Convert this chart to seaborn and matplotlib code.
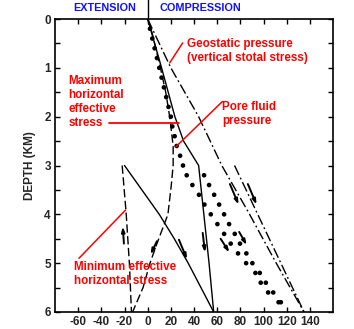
import numpy as np
import pandas as pd
import matplotlib
matplotlib.use("Agg")
import matplotlib.pyplot as plt
import matplotlib.transforms as mtransforms
import seaborn as sns

# ---------------- data ----------------
# Geostatic pressure (vertical total stress), dash-dot
geo_depth = [0, 1, 2, 3, 4, 5, 6]
geo_stress = [0, 20, 44, 64, 88, 111, 135]
# second dash-dot line (starting at 3 km)
geo2_depth = [3, 4, 5, 6]
geo2_stress = [75, 95, 115, 135]

# Maximum horizontal effective stress, solid
shmax_depth = [0, 1, 2, 2.5, 3, 4, 5, 6]
shmax_stress = [0, 12, 23.5, 31, 44, 48.5, 53, 57]
# second solid line (starting at 3 km)
shmax2_depth = [3, 3.5, 4, 4.5, 5, 5.5, 6]
shmax2_stress = [-20, -5, 10, 23, 35, 46, 57]

# Minimum effective horizontal stress, dashed
shmin_depth = [0, 0.3, 1, 1.5, 2, 2.6, 3, 3.4, 4, 4.6, 5, 5.5, 6]
shmin_stress = [0, 4, 11, 15.6, 19, 22, 22, 20.4, 17.5, 8, 2, -4, -13]
# second dashed line (starting at 3 km)
shmin2_depth = [3, 4, 5, 6]
shmin2_stress = [-22, -18.5, -15.8, -14]

# Pore fluid pressure, dotted (two series)
pore_depth = [0.2, 0.4, 0.6, 0.8, 1.0, 1.2, 1.4, 1.6, 1.8, 2.0, 2.2, 2.4, 2.6,
              2.8, 3.0, 3.2, 3.4, 3.6, 3.8, 4.0, 4.2, 4.4, 4.6, 4.8, 5.0, 5.2,
              5.4, 5.6, 5.8]
pore_press = [2, 4, 6, 8, 10, 12, 14, 16, 18, 20, 21.3, 23.3, 25, 28, 30.5,
              33.7, 38.6, 44.3, 49, 54.5, 60.2, 66, 71.7, 78, 85, 93, 97.6,
              104, 113]
pore2_depth = [3.2, 3.4, 3.6, 3.8, 4.0, 4.2, 4.4, 4.6, 4.8, 5.0, 5.2, 5.4,
               5.6, 5.8]
pore2_press = [48.7, 53, 57.4, 61.7, 66, 70.3, 75.2, 79.7, 85.2, 90.4, 96.8,
               102, 108.4, 115]

# small harpoon arrows (tail x, tail depth, head x, head depth)
arrows = [(-20.5, 4.6, -21.5, 4.25),
          (8, 4.55, 2.5, 4.82),
          (27, 4.52, 34, 4.92),
          (47.5, 4.38, 49.5, 4.78),
          (63, 4.5, 70.5, 4.78),
          (79, 4.36, 85.5, 4.63),
          (71, 3.38, 78.5, 3.8),
          (86.5, 3.38, 94, 3.8)]

x_ticks = [-60, -40, -20, 0, 20, 40, 60, 80, 100, 120, 140]
y_ticks = [0, 1, 2, 3, 4, 5, 6]
y_minor = [0.5, 1.5, 2.5, 3.5, 4.5, 5.5]

# ---------------- style ----------------
sns.set_style("ticks")
plt.rcParams["font.family"] = ["Liberation Sans", "DejaVu Sans"]
plt.rcParams["axes.unicode_minus"] = False
plt.rcParams["lines.scale_dashes"] = False

W, H = 354, 329
fig = plt.figure(figsize=(W / 100, H / 100), dpi=100)
fig.patch.set_facecolor("white")
left, right, top, bottom = 55, 333, 19, 312
ax = fig.add_axes([left / W, 1 - bottom / H, (right - left) / W, (bottom - top) / H])
ax.set_facecolor("white")

lw = 1.0
dashdot = (0, (7.5, 2.2, 1.3, 2.2))
dashed = (0, (6.0, 2.5))

def line(xs, ys, ls):
    df = pd.DataFrame({"x": xs, "y": ys})
    sns.lineplot(data=df, x="x", y="y", sort=False, estimator=None, ax=ax,
                 color="black", lw=lw, linestyle=ls)

line(geo_stress, geo_depth, dashdot)
line(geo2_stress, geo2_depth, dashdot)
line(shmax_stress, shmax_depth, "-")
line(shmax2_stress, shmax2_depth, "-")
line(shmin_stress, shmin_depth, dashed)
line(shmin2_stress, shmin2_depth, dashed)

for px, pd_ in [(pore_press, pore_depth), (pore2_press, pore2_depth)]:
    sns.scatterplot(x=px, y=pd_, ax=ax, color="black", s=11, marker="o",
                    edgecolor="none")

for (x0, d0, x1, d1) in arrows:
    ax.annotate("", xy=(x1, d1), xytext=(x0, d0),
                arrowprops=dict(arrowstyle="-|>,head_length=0.3,head_width=0.1",
                                color="black", lw=1.4, shrinkA=0, shrinkB=0))

ax.set_xlim(-80, 160)
ax.set_ylim(6, 0)
ax.set_xticks(x_ticks)
ax.set_xticklabels([str(v) for v in x_ticks])
ax.set_yticks(y_ticks)
ax.set_yticks(y_minor, minor=True)
ax.set_yticklabels([str(v) for v in y_ticks])
ax.tick_params(axis="both", which="both", direction="in", length=3.5, width=1,
               top=True, right=True, labelsize=8.5, pad=3, color="black")
for lab in ax.get_xticklabels() + ax.get_yticklabels():
    lab.set_fontweight("bold")
for sp in ax.spines.values():
    sp.set_visible(True)
    sp.set_linewidth(1.2)
    sp.set_color("black")
ax.set_xlabel("")
ax.set_ylabel("DEPTH (KM)", fontsize=8.5, fontweight="bold", labelpad=6)

# vertical divider above plot and header labels
trans = mtransforms.blended_transform_factory(ax.transData, ax.transAxes)
ax.plot([0, 0], [1, 1.07], transform=trans, color="black", lw=1.0, clip_on=False)
ax.text(-37, 1.038, "EXTENSION", transform=trans, color="#1010ff",
        fontsize=7.8, fontweight="bold", ha="center", va="center")
ax.text(45.5, 1.038, "COMPRESSION", transform=trans, color="#1010ff",
        fontsize=7.8, fontweight="bold", ha="center", va="center")

red = "#ff0000"
tkw = dict(color=red, fontsize=8.4, fontweight="bold", ha="left", va="center",
           linespacing=1.2)
ax.text(34, 0.655, "Geostatic pressure\n(vertical stotal stress)", **tkw)
ax.plot([30.2, 19], [0.49, 0.9], color=red, lw=1.1)
ax.text(-68.5, 1.70, "Maximum\nhorizontal\neffective\nstress", **tkw)
ax.plot([-33.7, 26.8], [2.13, 2.13], color=red, lw=1.3)
ax.text(64, 1.94, "Pore fluid\npressure", **tkw)
ax.plot([64.5, 24.2], [1.69, 2.62], color=red, lw=1.1)
ax.text(-64, 5.22, "Minimum effective\nhorizontal stress", **tkw)
ax.plot([-59.3, -19], [4.9, 3.91], color=red, lw=1.1)

fig.savefig("out.png", dpi=100, facecolor="white")
